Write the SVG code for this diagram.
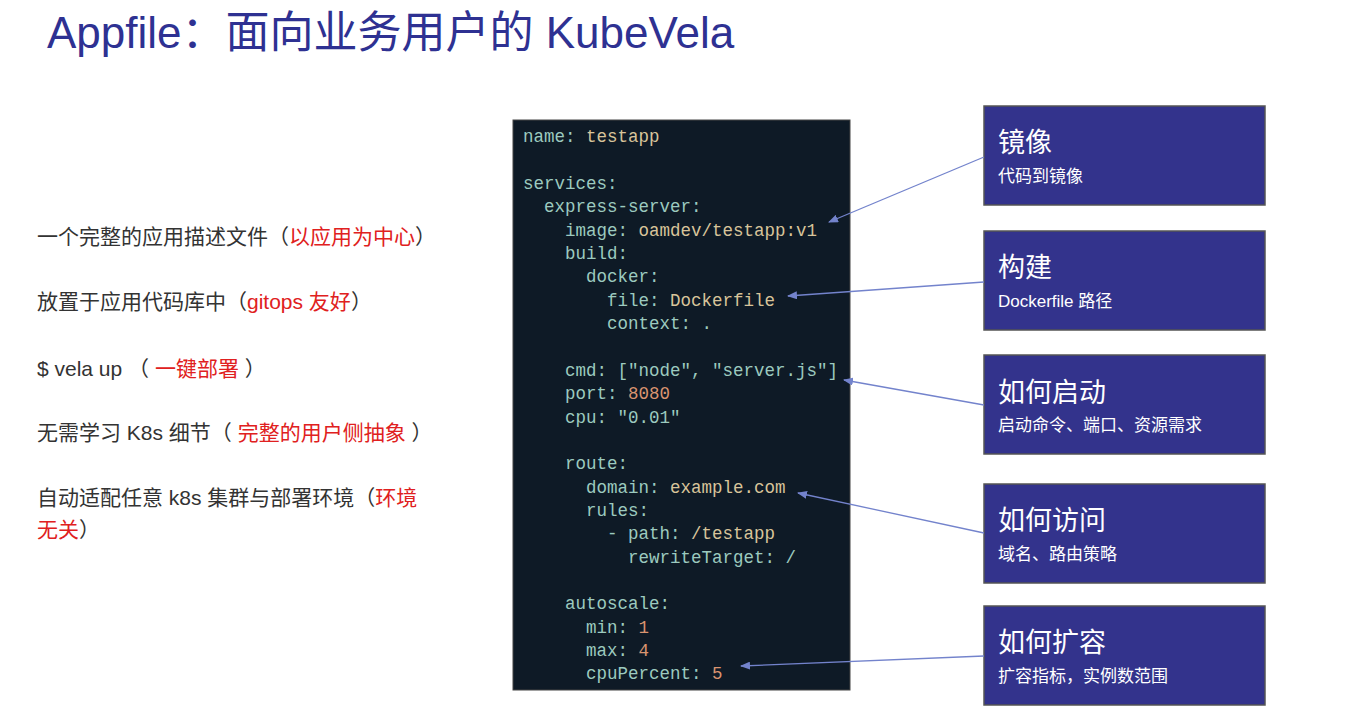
<svg xmlns="http://www.w3.org/2000/svg" width="1363" height="721" viewBox="0 0 1363 721">
<defs>
<marker id="ah" markerWidth="10" markerHeight="8" refX="9" refY="4" orient="auto" markerUnits="userSpaceOnUse"><path d="M0,0 L10,4 L0,8 z" fill="#7383cc"/></marker>
<style>
.t{font-family:"Liberation Sans","Noto Sans CJK SC",sans-serif}
.l{font-size:21px;fill:#333}
.r{fill:#e02020}
.c{font-family:"Liberation Mono","DejaVu Sans Mono",monospace;font-size:17.5px;fill:#9ccabf}
.v{fill:#d8c49a}
.n{fill:#d99470}
.box{fill:#33338c;stroke:#555;stroke-width:1.5}
.bt{font-size:27px;fill:#fff}
.bs{font-size:17px;fill:#fff}
.con{stroke:#7383cc;stroke-width:1.3;fill:none;marker-end:url(#ah)}
</style>
</defs>
<rect width="1363" height="721" fill="#fff"/>
<text class="t" x="47" y="48" font-size="44" fill="#2e3192">Appfile：面向业务用户的 KubeVela</text>
<g id="left">
<text class="t l" x="37" y="244">一个完整的应用描述文件（<tspan class="r">以应用为中心</tspan>）</text>
<text class="t l" x="37" y="309">放置于应用代码库中（<tspan class="r">gitops 友好</tspan>）</text>
<text class="t l" x="37" y="376">$ vela up （ <tspan class="r">一键部署</tspan> ）</text>
<text class="t l" x="37" y="440">无需学习 K8s 细节（ <tspan class="r">完整的用户侧抽象</tspan> ）</text>
<text class="t l" x="37" y="505">自动适配任意 k8s 集群与部署环境（<tspan class="r">环境</tspan></text>
<text class="t l" x="37" y="537"><tspan class="r">无关</tspan>）</text>
</g>
<g id="code">
<rect x="513" y="120" width="337" height="570" fill="#0e1a26" stroke="#444" stroke-width="1"/>
<text class="c" xml:space="preserve">
<tspan x="523" y="142">name: <tspan class="v">testapp</tspan></tspan>
<tspan x="523" y="189">services:</tspan>
<tspan x="523" y="212">  express-server:</tspan>
<tspan x="523" y="236">    image: <tspan class="v">oamdev/testapp:v1</tspan></tspan>
<tspan x="523" y="259">    build:</tspan>
<tspan x="523" y="282">      docker:</tspan>
<tspan x="523" y="306">        file: <tspan class="v">Dockerfile</tspan></tspan>
<tspan x="523" y="329">        context: .</tspan>
<tspan x="523" y="376">    cmd: ["node", "server.js"]</tspan>
<tspan x="523" y="399">    port: <tspan class="n">8080</tspan></tspan>
<tspan x="523" y="423">    cpu: "0.01"</tspan>
<tspan x="523" y="469">    route:</tspan>
<tspan x="523" y="493">      domain: <tspan class="v">example.com</tspan></tspan>
<tspan x="523" y="516">      rules:</tspan>
<tspan x="523" y="539">        - path: <tspan class="v">/testapp</tspan></tspan>
<tspan x="523" y="563">          rewriteTarget: /</tspan>
<tspan x="523" y="609">    autoscale:</tspan>
<tspan x="523" y="633">      min: <tspan class="n">1</tspan></tspan>
<tspan x="523" y="656">      max: <tspan class="n">4</tspan></tspan>
<tspan x="523" y="679">      cpuPercent: <tspan class="n">5</tspan></tspan>
</text>
</g>
<g id="n1"><rect class="box" x="984" y="106" width="281" height="99"/><text class="t bt" x="998" y="152">镜像</text><text class="t bs" x="998" y="182">代码到镜像</text></g>
<g id="n2"><rect class="box" x="984" y="231" width="281" height="99"/><text class="t bt" x="998" y="277">构建</text><text class="t bs" x="998" y="307">Dockerfile 路径</text></g>
<g id="n3"><rect class="box" x="984" y="355" width="281" height="99"/><text class="t bt" x="998" y="402">如何启动</text><text class="t bs" x="998" y="431">启动命令、端口、资源需求</text></g>
<g id="n4"><rect class="box" x="984" y="484" width="281" height="99"/><text class="t bt" x="998" y="530">如何访问</text><text class="t bs" x="998" y="560">域名、路由策略</text></g>
<g id="n5"><rect class="box" x="984" y="606" width="281" height="99"/><text class="t bt" x="998" y="652">如何扩容</text><text class="t bs" x="998" y="682">扩容指标，实例数范围</text></g>
<g id="connectors">
<line class="con" x1="984" y1="157" x2="829" y2="222"/>
<line class="con" x1="984" y1="282" x2="788" y2="296"/>
<line class="con" x1="984" y1="405" x2="844" y2="380"/>
<line class="con" x1="984" y1="533" x2="798" y2="493"/>
<line class="con" x1="984" y1="656" x2="741" y2="666"/>
</g>
</svg>
